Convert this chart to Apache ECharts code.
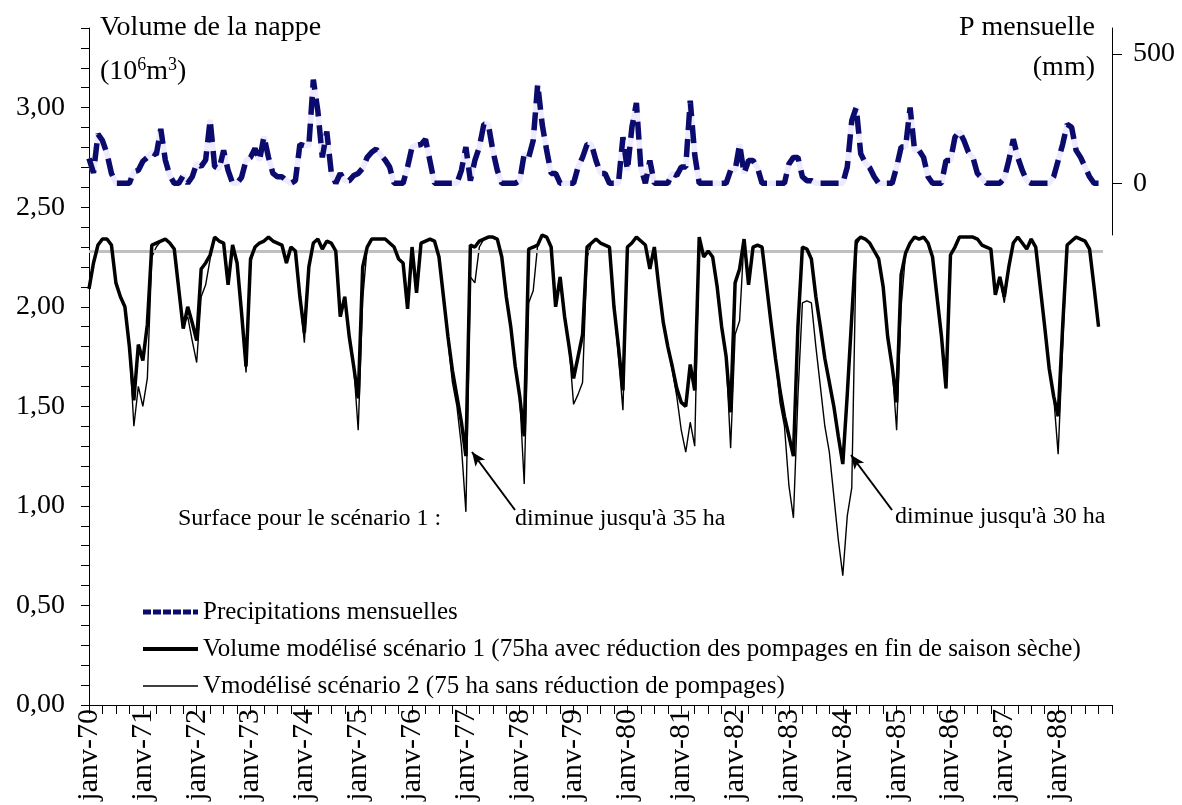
<!DOCTYPE html>
<html><head><meta charset="utf-8">
<script src="https://cdn.jsdelivr.net/npm/echarts@6/dist/echarts.min.js"></script>
<style>html,body{margin:0;padding:0;background:#fff}#c{width:1182px;height:805px}</style>
</head><body><div id="c"></div>
<script>
// ---- data ----
const years = ['70','71','72','73','74','75','76','77','78','79','80','81','82','83','84','85','86','87','88','89'];
const monthNames = ['janv','févr','mars','avr','mai','juin','juil','août','sept','oct','nov','déc'];
const categories = [];
years.forEach(function (y, k) {
  monthNames.forEach(function (m, j) {
    if (k < years.length - 1 || j === 0) categories.push(m + '-' + y);
  });
});
// Volume modélisé scénario 1 (10^6 m3), monthly from janv-70
const volS1 = [
2.09,2.22,2.31,2.34,2.34,2.31,2.12,2.05,2.00,1.80,1.53,1.81,
1.73,1.91,2.31,2.32,2.33,2.34,2.32,2.29,2.09,1.89,2.00,1.92,
1.83,2.19,2.22,2.26,2.35,2.33,2.32,2.11,2.31,2.22,1.97,1.70,
2.24,2.30,2.32,2.33,2.35,2.33,2.32,2.31,2.22,2.30,2.28,2.05,
1.87,2.20,2.32,2.34,2.29,2.33,2.32,2.28,1.95,2.05,1.85,1.70,
1.54,2.20,2.30,2.34,2.34,2.34,2.34,2.32,2.30,2.24,2.22,1.99,
2.30,2.07,2.32,2.33,2.34,2.33,2.25,2.05,1.85,1.68,1.55,1.42,
1.25,2.31,2.30,2.33,2.34,2.35,2.35,2.34,2.25,2.05,1.90,1.70,
1.55,1.35,2.29,2.30,2.31,2.36,2.35,2.30,2.00,2.15,1.95,1.80,
1.64,1.75,1.86,2.30,2.32,2.34,2.32,2.31,2.30,2.00,1.80,1.58,
2.30,2.32,2.35,2.33,2.31,2.19,2.30,2.10,1.92,1.80,1.70,1.59,
1.52,1.50,1.71,1.58,2.35,2.25,2.28,2.25,2.10,1.90,1.75,1.47,
2.12,2.19,2.34,2.11,2.30,2.31,2.30,2.11,1.92,1.74,1.58,1.45,
1.35,1.25,1.90,2.30,2.29,2.24,2.05,1.90,1.74,1.62,1.50,1.35,
1.21,1.56,1.95,2.33,2.35,2.34,2.32,2.28,2.24,2.10,1.85,1.70,
1.52,2.16,2.27,2.32,2.35,2.34,2.35,2.32,2.25,2.05,1.85,1.59,
2.26,2.30,2.35,2.35,2.35,2.35,2.34,2.31,2.30,2.29,2.06,2.15,
2.05,2.20,2.32,2.35,2.32,2.29,2.34,2.30,2.10,1.90,1.69,1.55,
1.45,1.90,2.31,2.33,2.35,2.34,2.33,2.29,2.10,1.90
];
// Vmodélisé scénario 2 (10^6 m3)
const volS2 = [
2.09,2.22,2.31,2.34,2.34,2.31,2.12,2.05,2.00,1.80,1.40,1.60,
1.50,1.64,2.25,2.30,2.33,2.34,2.32,2.29,2.09,1.91,1.95,1.83,
1.72,2.05,2.11,2.24,2.35,2.33,2.32,2.11,2.31,2.22,1.97,1.67,
2.22,2.30,2.32,2.33,2.35,2.33,2.32,2.31,2.22,2.30,2.28,2.05,
1.82,2.20,2.32,2.34,2.29,2.33,2.32,2.28,1.95,2.05,1.85,1.70,
1.38,2.04,2.30,2.34,2.34,2.34,2.34,2.32,2.30,2.24,2.22,1.99,
2.30,2.07,2.32,2.33,2.34,2.33,2.25,2.05,1.83,1.62,1.50,1.30,
0.97,2.15,2.12,2.30,2.34,2.35,2.35,2.34,2.25,2.05,1.90,1.70,
1.55,1.11,2.02,2.08,2.31,2.36,2.35,2.30,2.00,2.15,1.95,1.80,
1.51,1.56,1.62,2.25,2.32,2.34,2.32,2.31,2.30,2.00,1.75,1.48,
2.30,2.32,2.35,2.33,2.31,2.19,2.30,2.10,1.92,1.80,1.68,1.55,
1.38,1.27,1.42,1.30,2.35,2.25,2.28,2.25,2.10,1.90,1.75,1.29,
1.86,1.93,2.34,2.11,2.30,2.31,2.30,2.11,1.92,1.74,1.52,1.40,
1.10,0.94,1.55,2.02,2.03,2.02,1.80,1.60,1.40,1.27,1.05,0.83,
0.65,0.95,1.09,2.31,2.35,2.34,2.32,2.28,2.24,2.10,1.85,1.70,
1.38,2.00,2.27,2.32,2.35,2.34,2.35,2.32,2.25,2.05,1.85,1.59,
2.26,2.30,2.35,2.35,2.35,2.35,2.34,2.31,2.30,2.29,2.06,2.15,
2.02,2.20,2.32,2.35,2.32,2.29,2.34,2.30,2.10,1.90,1.69,1.55,
1.26,1.80,2.31,2.33,2.35,2.34,2.33,2.29,2.10,1.90
];
// Précipitations mensuelles (mm)
const precip = [
96,40,190,165,115,38,0,0,0,0,45,50,
85,100,120,110,210,90,30,0,0,30,0,25,
77,65,90,245,65,55,127,50,0,0,23,88,
100,134,88,181,100,38,25,25,10,0,10,150,
145,145,400,280,100,200,40,0,38,10,10,30,
38,58,100,120,132,110,90,63,0,0,0,63,
140,147,150,170,85,0,0,0,0,0,0,50,
140,10,88,140,228,228,127,50,0,0,0,0,
10,114,100,165,383,228,127,38,38,0,0,0,
0,63,100,150,150,88,38,38,0,0,0,178,
50,216,310,60,0,88,0,0,0,0,38,30,
63,63,319,110,0,0,0,0,0,0,0,50,
50,150,38,88,88,60,0,0,0,0,0,0,
75,100,100,25,10,10,0,0,0,0,0,0,
0,63,242,293,114,80,60,25,0,0,0,0,
63,140,140,293,127,127,100,25,0,0,0,88,
88,178,200,165,120,100,38,20,0,0,0,0,
20,88,170,100,50,10,0,0,0,0,0,25,
88,150,228,216,127,100,63,25,0,0
];
const refLevel = 2.28;          // niveau de référence (ligne grise)
const rightTicks = [0, 500];

// ---- chart ----
const FONT = '"Liberation Serif","Times New Roman",serif';
const chart = echarts.init(document.getElementById('c'), null, {renderer: 'canvas'});
const fmt = function (v) { return v.toFixed(2).replace('.', ','); };
const NAME_P = 'Precipitations mensuelles';
const NAME_1 = 'Volume modélisé scénario 1 (75ha avec réduction des pompages en fin de saison sèche)';
const NAME_2 = 'Vmodélisé scénario 2 (75 ha sans réduction de pompages)';

chart.setOption({
  animation: false,
  backgroundColor: '#ffffff',
  textStyle: {fontFamily: FONT, color: '#000'},
  grid: [
    {left: 89, right: 70, top: 28, bottom: 100, containLabel: false},
    {left: 89, right: 70, top: 28, height: 207, containLabel: false}
  ],
  legend: {
    orient: 'vertical', left: 138, top: 593,
    itemWidth: 55, itemHeight: 14, itemGap: 9, symbolKeepAspect: true,
    data: [
      {name: NAME_P, icon: 'path://M0,0H8V5H0Z M10,0H18V5H10Z M20,0H28V5H20Z M30,0H38V5H30Z M40,0H48V5H40Z M50,0H55V5H50Z'},
      {name: NAME_1, icon: 'path://M0,0H55V4H0Z'},
      {name: NAME_2, icon: 'path://M0,0H55V1.4H0Z'}
    ],
    textStyle: {fontFamily: FONT, fontSize: 25, color: '#000', lineHeight: 28}
  },
  xAxis: [{
    type: 'category', data: categories, boundaryGap: false, gridIndex: 0,
    axisLine: {lineStyle: {color: '#000', width: 1}},
    axisTick: {interval: 2, length: 9, lineStyle: {color: '#000'}},
    axisLabel: {
      interval: function (idx) { return idx % 12 === 0 && idx < categories.length - 1; },
      rotate: 90, fontFamily: FONT, fontSize: 30, color: '#000', margin: 4},
    splitLine: {show: false}
  }, {
    type: 'category', data: categories, boundaryGap: false, gridIndex: 1, show: false
  }],
  yAxis: [{
    type: 'value', min: 0, max: 3.4, interval: 0.1, position: 'left', gridIndex: 0,
    axisLine: {show: true, lineStyle: {color: '#000', width: 1}},
    axisTick: {show: true, length: 8, lineStyle: {color: '#000'}},
    axisLabel: {fontFamily: FONT, fontSize: 28, color: '#000', margin: 24,
      formatter: function (v) { return Math.abs(v * 2 - Math.round(v * 2)) < 1e-6 ? fmt(v) : ''; }},
    splitLine: {show: false}
  }, {
    type: 'value', min: -200, max: 600, position: 'right', gridIndex: 1,
    axisLine: {show: true, lineStyle: {color: '#000', width: 1}},
    axisTick: {show: true, length: 10, customValues: rightTicks, lineStyle: {color: '#000'}},
    axisLabel: {fontFamily: FONT, fontSize: 28, color: '#000', margin: 21, customValues: rightTicks},
    splitLine: {show: false}
  }],
  series: [{
    name: 'precipUnder', type: 'line', xAxisIndex: 1, yAxisIndex: 1, data: precip, symbol: 'none',
    lineStyle: {color: '#eeeaff', width: 5.5}, z: 2, silent: true
  }, {
    name: NAME_P, type: 'line', xAxisIndex: 1, yAxisIndex: 1, data: precip, symbol: 'none',
    itemStyle: {color: '#0b0b6e'},
    lineStyle: {color: '#0b0b6e', width: 5.5, type: [18, 9]}, z: 3
  }, {
    name: NAME_2, type: 'line', data: volS2, symbol: 'none',
    itemStyle: {color: '#000'}, lineStyle: {color: '#000', width: 1.4}, z: 4,
    markLine: {
      silent: true, symbol: ['none', 'none'], label: {show: false},
      lineStyle: {color: '#c0c0c0', width: 3, type: 'solid'},
      data: [[{coord: [0, refLevel]}, {coord: [226, refLevel]}]]
    }
  }, {
    name: NAME_1, type: 'line', data: volS1, symbol: 'none',
    itemStyle: {color: '#000'}, lineStyle: {color: '#000', width: 3.5}, z: 5,
    markLine: {
      silent: true, symbol: ['arrow', 'none'], symbolSize: [9, 14], label: {show: false},
      lineStyle: {color: '#000', width: 2, type: 'solid'},
      data: [[{x: 472, y: 452}, {x: 515, y: 510}], [{x: 851, y: 455}, {x: 892, y: 510}]]
    }
  }],
  graphic: [
    {type: 'text', left: 100, top: 14, style: {text: 'Volume de la nappe', font: '28px ' + FONT, fill: '#000'}},
    {type: 'text', left: 100, top: 56, style: {
      text: '(10{s|6}m{s|3})', font: '28px ' + FONT, fill: '#000',
      rich: {s: {fontSize: 18, fontFamily: FONT, verticalAlign: 'top', padding: [0, 0, 14, 0]}}}},
    {type: 'text', right: 87, top: 14, style: {text: 'P mensuelle', font: '28px ' + FONT, fill: '#000'}},
    {type: 'text', right: 87, top: 54, style: {text: '(mm)', font: '28px ' + FONT, fill: '#000'}},
    {type: 'text', left: 178, top: 507, style: {text: 'Surface pour le scénario 1 :', font: '24px ' + FONT, fill: '#000'}},
    {type: 'text', left: 515, top: 507, style: {text: "diminue jusqu'à 35 ha", font: '24px ' + FONT, fill: '#000'}},
    {type: 'text', left: 895, top: 505, style: {text: "diminue jusqu'à 30 ha", font: '24px ' + FONT, fill: '#000'}}
  ]
});
</script>
</body></html>
